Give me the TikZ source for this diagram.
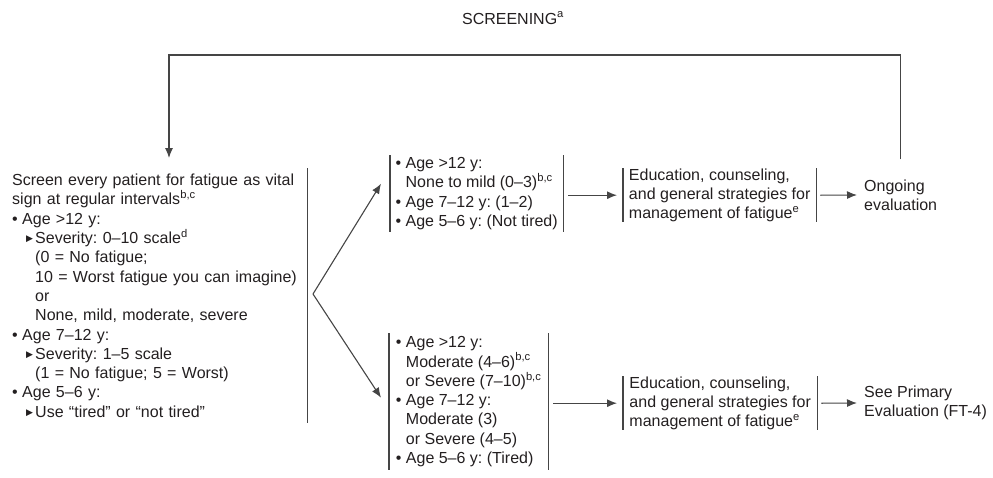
\documentclass[tikz,border=0pt]{standalone}
\usepackage{fontspec}
\setmainfont{Liberation Sans}
\newfontfamily\symfont{DejaVu Sans}
\usetikzlibrary{arrows.meta,positioning,calc}
\definecolor{ink}{HTML}{231F20}
\definecolor{rulegray}{HTML}{454545}
\newcommand{\bul}{\makebox[10pt][l]{•}}
\newcommand{\tri}{\hspace*{14pt}\makebox[9pt][l]{\raisebox{1.8pt}{\symfont\fontsize{9}{9}\selectfont ▶}}}
\newcommand{\ind}[1]{\hspace*{#1pt}}
\newcommand{\sups}[1]{\textsuperscript{#1}}
\begin{document}
\begin{tikzpicture}[x=1pt,y=-1pt,
  every node/.style={font=\fontsize{16}{19.3}\selectfont\frenchspacing, text=ink, inner sep=0pt},
  barbox/.style={align=left, anchor=north west, inner xsep=5pt, inner ysep=0pt},
  bar/.style={draw=rulegray, line width=1.1pt},
  arr/.style={draw=rulegray, line width=1.1pt, -{Latex[length=10pt,width=8pt]}}]
\useasboundingbox (0,0) rectangle (993,477);
\node (title) at (513,18) {SCREENING\sups{a}};
\node[anchor=north west, align=left, text width=295pt, minimum height=255pt] (screen) at (12,168) {
Screen every patient for fatigue as vital\\
sign at regular intervals\sups{b,c}\\
\bul Age >12 y:\\
\tri Severity: 0–10 scale\sups{d}\\
\ind{23}(0 = No fatigue;\\
\ind{23}10 = Worst fatigue you can imagine)\\
\ind{23}or\\
\ind{23}None, mild, moderate, severe\\
\bul Age 7–12 y:\\
\tri Severity: 1–5 scale\\
\ind{23}(1 = No fatigue; 5 = Worst)\\
\bul Age 5–6 y:\\
\tri Use “tired” or “not tired”};
\node[barbox, minimum width=173pt, minimum height=77pt] (mild) at (390,155) {
\bul Age >12 y:\\
\ind{10}None to mild (0–3)\sups{b,c}\\
\bul Age 7–12 y: (1–2)\\
\bul Age 5–6 y: (Not tired)};
\node[barbox, minimum width=159pt, minimum height=137pt] (severe) at (389,333) {
\bul Age >12 y:\\
\ind{10}Moderate (4–6)\sups{b,c}\\
\ind{10}or Severe (7–10)\sups{b,c}\\
\bul Age 7–12 y:\\
\ind{10}Moderate (3)\\
\ind{10}or Severe (4–5)\\
\bul Age 5–6 y: (Tired)};
\node[barbox, minimum width=193pt, minimum height=54pt] (eduA) at (623,168) {
Education, counseling,\\
and general strategies for\\
management of fatigue\sups{e}};
\node[barbox, minimum width=194pt, minimum height=54pt] (eduB) at (623,376) {
Education, counseling,\\
and general strategies for\\
management of fatigue\sups{e}};
\node[anchor=west, align=left] (ongo) at (864,195) {Ongoing\\evaluation};
\node[anchor=west, align=left] (primary) at (864,403) {See Primary\\Evaluation (FT-4)};
\coordinate (fork) at (313,294);
\coordinate (entry) at (169,158);
\draw[bar] (screen.north east) -- (screen.south east);
\foreach \b in {mild,severe,eduA,eduB}
  \draw[bar] (\b.north west) -- (\b.south west) (\b.north east) -- (\b.south east);
\draw[arr] (fork) -- ([xshift=-9pt,yshift=10pt]mild.west);
\draw[arr] (fork) -- ([xshift=-8pt,yshift=4pt]severe.west);
\draw[arr] ([xshift=5pt]mild.east |- eduA.west) -- ([xshift=-6pt]eduA.west);
\draw[arr] ([xshift=5pt]severe.east |- eduB.west) -- ([xshift=-6pt]eduB.west);
\draw[arr] ([xshift=4pt]eduA.east) -- ([xshift=-7pt]ongo.west);
\draw[arr] ([xshift=4pt]eduB.east) -- ([xshift=-7pt]primary.west);
\draw[arr] ([yshift=20pt]ongo.north) |- ([yshift=103pt]entry) -- (entry);
\end{tikzpicture}
\end{document}
